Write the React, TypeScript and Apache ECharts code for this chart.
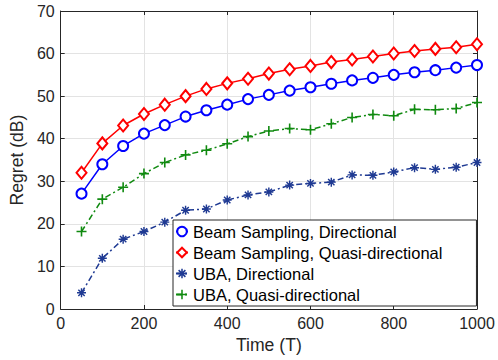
import React, { useEffect, useRef } from "react";
import * as echarts from "echarts";

const timeSteps = [50, 100, 150, 200, 250, 300, 350, 400, 450, 500, 550, 600, 650, 700, 750, 800, 850, 900, 950, 1000];
const beamDirectional = [27.1, 34.0, 38.3, 41.2, 43.2, 45.2, 46.7, 48.0, 49.3, 50.3, 51.3, 52.1, 52.9, 53.7, 54.3, 55.0, 55.6, 56.1, 56.7, 57.3];
const beamQuasi = [32.0, 38.9, 43.1, 45.8, 48.0, 50.0, 51.7, 53.0, 54.1, 55.3, 56.3, 57.1, 58.0, 58.6, 59.3, 60.0, 60.6, 61.1, 61.5, 62.2];
const ubaDirectional = [3.8, 11.9, 16.4, 18.2, 20.4, 23.2, 23.5, 25.6, 26.8, 27.5, 29.1, 29.5, 29.8, 31.5, 31.4, 32.2, 33.2, 32.8, 33.3, 34.4];
const ubaQuasi = [18.2, 25.8, 28.6, 31.8, 34.4, 36.2, 37.3, 38.8, 40.5, 41.8, 42.4, 42.1, 43.5, 45.0, 45.7, 45.4, 46.9, 46.8, 47.1, 48.5];
const seriesNames = [
  "Beam Sampling, Directional",
  "Beam Sampling, Quasi-directional",
  "UBA, Directional",
  "UBA, Quasi-directional",
];
const xTitle = "Time (T)";
const yTitle = "Regret (dB)";

const PLUS =
  "path://M-0.8,-5H0.8V-0.8H5V0.8H0.8V5H-0.8V0.8H-5V-0.8H-0.8Z";
const STAR =
  "path://M-5,-0.8L5,-0.8L5,0.8L-5,0.8Z" +
  "M0.8,-5L0.8,5L-0.8,5L-0.8,-5Z" +
  "M-2.970,-4.101L4.101,2.970L2.970,4.101L-4.101,-2.970Z" +
  "M-4.101,2.970L2.970,-4.101L4.101,-2.970L-2.970,4.101Z";

const FONT = "'Liberation Sans', Arial, Helvetica, sans-serif";
const INK = "#262626";

export default function App() {
  const ref = useRef<HTMLDivElement>(null);
  useEffect(() => {
    if (!ref.current) return;
    const chart = echarts.init(ref.current, null, { renderer: "svg" });
    const pts = (arr: number[]) => timeSteps.map((t, i) => [t, arr[i]]);
    const axisCommon = {
      type: "value" as const,
      axisLine: { show: true, onZero: false, lineStyle: { color: INK, width: 1 } },
      axisTick: { show: true, inside: true, length: 4, lineStyle: { color: INK } },
    };
    chart.setOption({
      animation: false,
      backgroundColor: "#fff",
      textStyle: { fontFamily: FONT },
      grid: { left: 58, right: 21, top: 11, bottom: 51 },
      xAxis: [
        {
          ...axisCommon,
          min: 0,
          max: 1000,
          interval: 200,
          position: "bottom",
          name: xTitle,
          nameLocation: "middle",
          nameGap: 25,
          nameTextStyle: { color: INK, fontSize: 17.6, fontFamily: FONT },
          axisLabel: { color: INK, fontSize: 16, margin: 6, fontFamily: FONT, formatter: (v: number) => String(v) },
          splitLine: { show: true, lineStyle: { color: "#e3e3e3", width: 1 } },
        },
        {
          ...axisCommon,
          min: 0,
          max: 1000,
          interval: 200,
          position: "top",
          axisLabel: { show: false },
          splitLine: { show: false },
        },
      ],
      yAxis: [
        {
          ...axisCommon,
          min: 0,
          max: 70,
          interval: 10,
          position: "left",
          name: yTitle,
          nameLocation: "middle",
          nameGap: 30,
          nameTextStyle: { color: INK, fontSize: 17.6, fontFamily: FONT },
          axisLabel: { color: INK, fontSize: 16, margin: 6, fontFamily: FONT },
          splitLine: { show: true, lineStyle: { color: "#e3e3e3", width: 1 } },
        },
        {
          ...axisCommon,
          min: 0,
          max: 70,
          interval: 10,
          position: "right",
          axisLabel: { show: false },
          splitLine: { show: false },
        },
      ],
      legend: {
        orient: "vertical",
        left: 173,
        top: 220,
        padding: [3, 34, 3, 2],
        itemGap: 4,
        itemWidth: 12,
        itemHeight: 12,
        backgroundColor: "#fff",
        borderColor: INK,
        borderWidth: 1,
        borderRadius: 0,
        textStyle: { color: "#000", fontSize: 16.5, fontFamily: FONT },
        data: seriesNames,
      },
      series: [
        {
          name: seriesNames[0],
          type: "line",
          data: pts(beamDirectional),
          symbol: "emptyCircle",
          symbolSize: 10,
          lineStyle: { color: "#0000ff", width: 1.5 },
          itemStyle: { color: "#0000ff", borderColor: "#0000ff", borderWidth: 1.5 },
        },
        {
          name: seriesNames[1],
          type: "line",
          data: pts(beamQuasi),
          symbol: "emptyDiamond",
          symbolSize: [10, 12],
          lineStyle: { color: "#ff0000", width: 1.5 },
          itemStyle: { color: "#ff0000", borderColor: "#ff0000", borderWidth: 1.5 },
        },
        {
          name: seriesNames[2],
          type: "line",
          data: pts(ubaDirectional),
          symbol: STAR,
          symbolSize: 9,
          lineStyle: { color: "#1f3a93", width: 1.5, type: [6, 3, 2, 3] },
          itemStyle: { color: "#1f3a93" },
        },
        {
          name: seriesNames[3],
          type: "line",
          data: pts(ubaQuasi),
          symbol: PLUS,
          symbolSize: 10,
          lineStyle: { color: "#108a10", width: 1.5, type: [6, 3, 2, 3] },
          itemStyle: { color: "#108a10" },
        },
      ],
    });
    return () => chart.dispose();
  }, []);
  return <div ref={ref} style={{ width: 498, height: 360, position: "absolute", left: 0, top: 0 }} />;
}
